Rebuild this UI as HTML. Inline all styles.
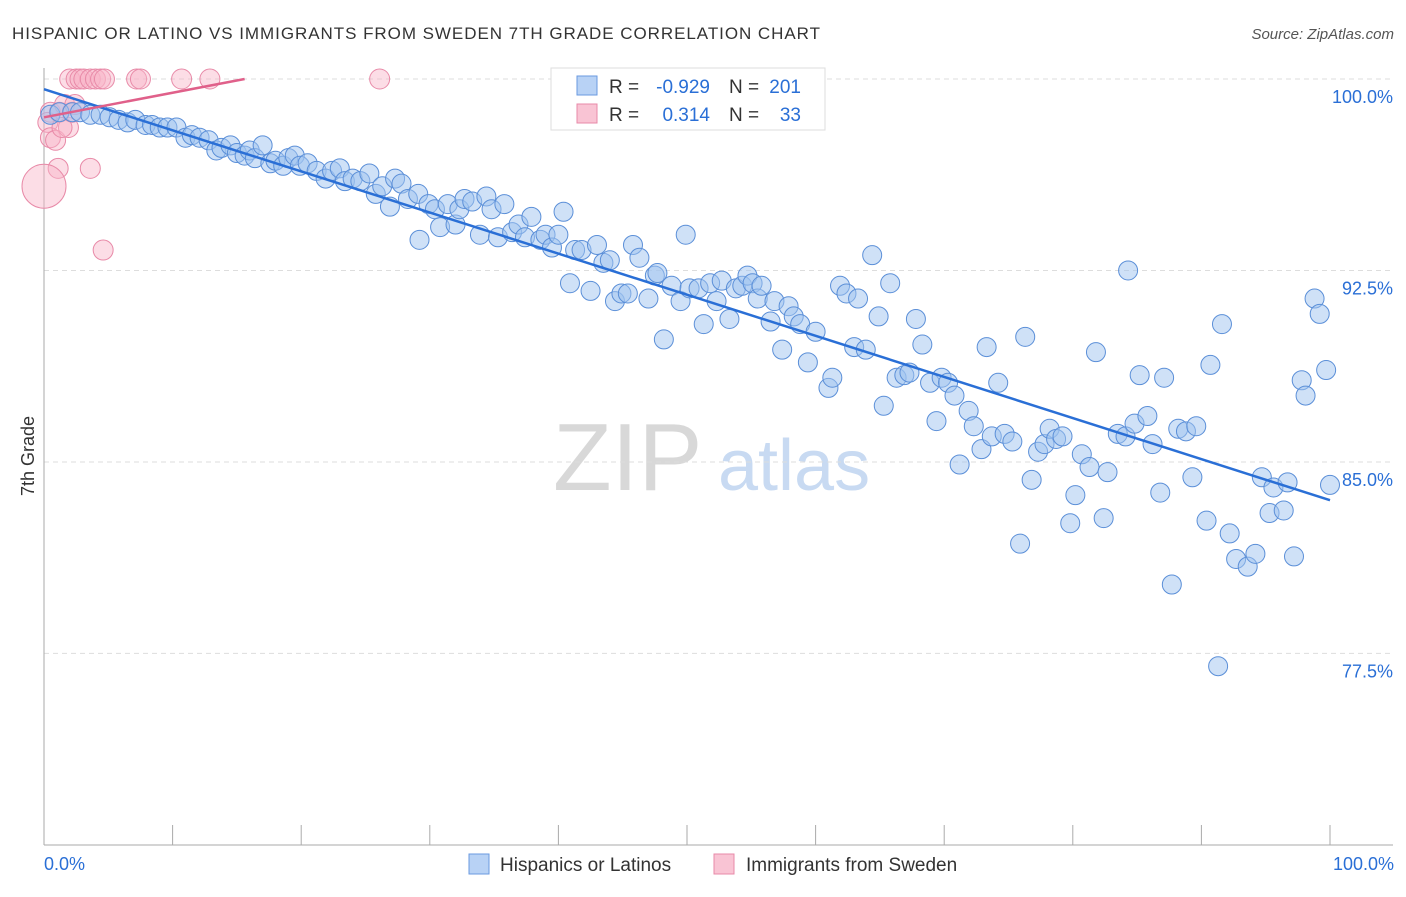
<!DOCTYPE html>
<html><head><meta charset="utf-8"><style>
body{margin:0;background:#fff;font-family:"Liberation Sans",sans-serif;}
svg text{font-family:"Liberation Sans",sans-serif;}
</style></head><body>
<svg id="chart" width="1406" height="892" viewBox="0 0 1406 892">
<text x="12" y="39" font-size="17" fill="#333" textLength="808">HISPANIC OR LATINO VS IMMIGRANTS FROM SWEDEN 7TH GRADE CORRELATION CHART</text>
<text x="1394" y="39" font-size="15" fill="#555" text-anchor="end" font-style="italic">Source: ZipAtlas.com</text>
<text x="553" y="490" font-size="96" fill="#d8d8d8" font-family="Liberation Serif">ZIP</text>
<text x="718" y="490" font-size="72" fill="#c8daf2">atlas</text>
<g id="grid"></g><g id="axes"></g><g id="pink"></g><g id="blue"></g><g id="lines"></g>
<g>
<rect x="551" y="68" width="274" height="62" fill="#fff" stroke="#ddd"/>
<rect x="577" y="76" width="20" height="19" fill="#b8d2f5" stroke="#6a9ae0"/>
<rect x="577" y="104" width="20" height="19" fill="#f9c4d4" stroke="#e88aa8"/>
<text x="609" y="93" font-size="19" fill="#333">R =</text>
<text x="710" y="93" font-size="19" fill="#2a6fd6" text-anchor="end">-0.929</text>
<text x="729" y="93" font-size="19" fill="#333">N =</text>
<text x="801" y="93" font-size="19" fill="#2a6fd6" text-anchor="end">201</text>
<text x="609" y="121" font-size="19" fill="#333">R =</text>
<text x="710" y="121" font-size="19" fill="#2a6fd6" text-anchor="end">0.314</text>
<text x="729" y="121" font-size="19" fill="#333">N =</text>
<text x="801" y="121" font-size="19" fill="#2a6fd6" text-anchor="end">33</text>
</g>
<g>
<rect x="469" y="854" width="20" height="20" fill="#b8d2f5" stroke="#6a9ae0"/>
<text x="500" y="871" font-size="19" fill="#333">Hispanics or Latinos</text>
<rect x="714" y="854" width="20" height="20" fill="#f9c4d4" stroke="#e88aa8"/>
<text x="746" y="871" font-size="19" fill="#333">Immigrants from Sweden</text>
</g>
<text transform="translate(34,456) rotate(-90)" font-size="18" fill="#333" text-anchor="middle">7th Grade</text>
<text x="44" y="870" font-size="18" fill="#2a6fd6">0.0%</text>
<text x="1394" y="870" font-size="18" fill="#2a6fd6" text-anchor="end">100.0%</text>
</svg>
<script>
const blueX=[0.5,1.2,2.2,2.8,3.6,4.4,5.1,5.8,6.5,7.1,7.9,8.4,9.0,9.6,10.3,11.0,11.5,12.1,12.8,13.4,13.8,14.5,15.0,15.6,16.0,16.4,17.0,17.6,18.0,18.6,19.0,19.5,19.9,20.5,21.2,21.9,22.4,23.0,23.4,24.0,24.6,25.3,25.8,26.3,26.9,27.3,27.8,28.3,29.1,29.2,29.9,30.4,30.8,31.4,32.0,32.3,32.7,33.3,33.9,34.4,34.8,35.3,35.8,36.4,36.9,37.4,37.9,38.6,39.0,39.5,40.0,40.4,40.9,41.3,41.8,42.5,43.0,43.5,44.0,44.4,44.9,45.4,45.8,46.3,47.0,47.5,47.7,48.2,48.8,49.5,49.9,50.2,50.9,51.3,51.8,52.3,52.7,53.3,53.8,54.3,54.7,55.1,55.5,55.8,56.5,56.8,57.4,57.9,58.3,58.8,59.4,60.0,61.0,61.3,61.9,62.4,63.0,63.3,63.9,64.4,64.9,65.3,65.8,66.3,66.9,67.3,67.8,68.3,68.9,69.4,69.8,70.3,70.8,71.2,71.9,72.3,72.9,73.3,73.7,74.2,74.7,75.3,75.9,76.3,76.8,77.3,77.8,78.2,78.7,79.2,79.8,80.2,80.7,81.3,81.8,82.4,82.7,83.5,84.1,84.3,84.8,85.2,85.8,86.2,86.8,87.1,87.7,88.2,88.8,89.3,89.6,90.4,90.7,91.3,91.6,92.2,92.7,93.6,94.2,94.7,95.3,95.6,96.4,96.7,97.2,97.8,98.1,98.8,99.2,99.7,100.0];
const blueY=[98.6,98.7,98.7,98.7,98.6,98.6,98.5,98.4,98.3,98.4,98.2,98.2,98.1,98.1,98.1,97.7,97.8,97.7,97.6,97.2,97.3,97.4,97.1,97.0,97.2,96.9,97.4,96.7,96.8,96.6,96.9,97.0,96.6,96.7,96.4,96.1,96.4,96.5,96.0,96.1,96.0,96.3,95.5,95.8,95.0,96.1,95.9,95.3,95.5,93.7,95.1,94.9,94.2,95.1,94.3,94.9,95.3,95.2,93.9,95.4,94.9,93.8,95.1,94.0,94.3,93.8,94.6,93.7,93.9,93.4,93.9,94.8,92.0,93.3,93.3,91.7,93.5,92.8,92.9,91.3,91.6,91.6,93.5,93.0,91.4,92.3,92.4,89.8,91.9,91.3,93.9,91.8,91.8,90.4,92.0,91.3,92.1,90.6,91.8,91.9,92.3,92.0,91.4,91.9,90.5,91.3,89.4,91.1,90.7,90.4,88.9,90.1,87.9,88.3,91.9,91.6,89.5,91.4,89.4,93.1,90.7,87.2,92.0,88.3,88.4,88.5,90.6,89.6,88.1,86.6,88.3,88.1,87.6,84.9,87.0,86.4,85.5,89.5,86.0,88.1,86.1,85.8,81.8,89.9,84.3,85.4,85.7,86.3,85.9,86.0,82.6,83.7,85.3,84.8,89.3,82.8,84.6,86.1,86.0,92.5,86.5,88.4,86.8,85.7,83.8,88.3,80.2,86.3,86.2,84.4,86.4,82.7,88.8,77.0,90.4,82.2,81.2,80.9,81.4,84.4,83.0,84.0,83.1,84.2,81.3,88.2,87.6,91.4,90.8,88.6,84.1];
const pinkX=[0.5,0.3,0.5,0.9,1.2,1.6,1.9,1.4,2.2,2.4,2.0,2.5,2.8,3.1,3.6,4.0,4.4,4.7,7.2,7.5,10.7,12.9,26.1,1.1,3.6,4.6,0.0];
const pinkY=[98.7,98.3,97.7,97.6,98.7,99.0,98.1,98.1,98.7,99.0,100,100,100,100,100,100,100,100,100,100,100,100,100,96.5,96.5,93.3,95.8];
const pinkR=[10,10,10,10,10,10,10,10,10,10,10,10,10,10,10,10,10,10,10,10,10,10,10,10,10,10,22];
const yTicks=[100,92.5,85,77.5];
const yTickLabels=["100.0%","92.5%","85.0%","77.5%"];
const blueTrend=[[0,99.6],[100,83.5]];
const pinkTrend=[[0,98.5],[15.6,100]];
const X=v=>44+v*12.86, Y=v=>79+(100-v)*25.53;
const NS="http://www.w3.org/2000/svg";
function mk(tag,parent,attrs){const e=document.createElementNS(NS,tag);for(const k in attrs)e.setAttribute(k,attrs[k]);document.getElementById(parent).appendChild(e);return e;}
yTicks.forEach((t,i)=>{
 const l=mk('line','grid',{x1:44,x2:1393,y1:Y(t),y2:Y(t),stroke:'#ddd','stroke-dasharray':'5,4'});
 
 
 const tx=mk('text','grid',{x:1393,y:Y(t)+24,'font-size':18,fill:'#2a6fd6','text-anchor':'end'});
 tx.textContent=yTickLabels[i];
 
 
});
const ax=mk('line','axes',{x1:44,x2:44,y1:68,y2:845,stroke:'#aaa'});


const bx=mk('line','axes',{x1:44,x2:1393,y1:845,y2:845,stroke:'#aaa'});


for(let v=0;v<=100;v+=10){const t=mk('line','axes',{x1:X(v),x2:X(v),y1:825,y2:845,stroke:'#aaa'});
 
 }
pinkX.forEach((x,i)=>{const c=mk('circle','pink',{cx:X(x),cy:Y(pinkY[i]),r:pinkR[i],fill:'rgba(248,180,200,0.45)',stroke:'#e88aa8','stroke-width':1});
 
 });
blueX.forEach((x,i)=>{const c=mk('circle','blue',{cx:X(x),cy:Y(blueY[i]),r:9.5,fill:'rgba(160,196,240,0.5)',stroke:'#5b8fd8','stroke-width':1});
 
 });
const bl=mk('line','lines',{x1:X(blueTrend[0][0]),y1:Y(blueTrend[0][1]),x2:X(blueTrend[1][0]),y2:Y(blueTrend[1][1]),stroke:'#2a6fd6','stroke-width':2.5});


const pl=mk('line','lines',{x1:X(pinkTrend[0][0]),y1:Y(pinkTrend[0][1]),x2:X(pinkTrend[1][0]),y2:Y(pinkTrend[1][1]),stroke:'#e0608a','stroke-width':2.5});


</script>
</body></html>
